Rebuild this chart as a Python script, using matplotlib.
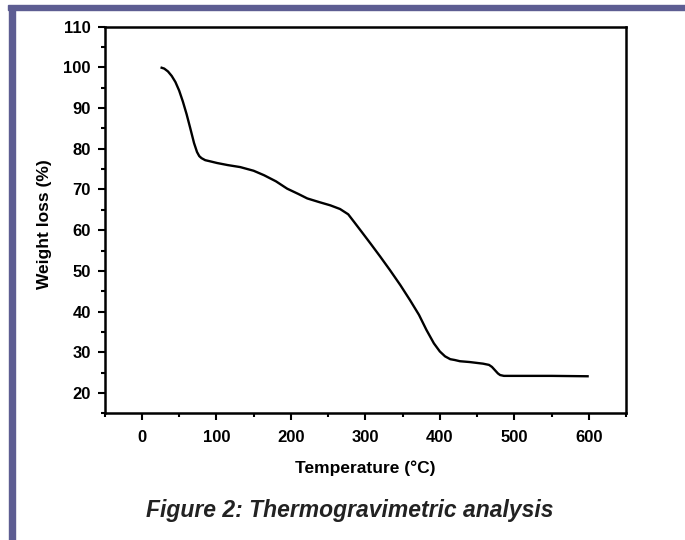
import matplotlib.pyplot as plt
from matplotlib.patches import Rectangle
from matplotlib.ticker import MultipleLocator

plt.rcParams['font.family'] = ['Liberation Sans', 'DejaVu Sans']

# TGA curve
temp = [25, 30, 35, 40, 45, 50, 55, 60, 65, 70, 74, 77, 80, 85, 92, 101, 115,
        132, 150, 164, 180, 195, 210, 222, 238, 253, 266, 277, 285, 295, 307,
        320, 333, 347, 360, 372, 382, 392, 400, 407, 414, 420, 427, 440, 458,
        466, 470, 474, 478, 481, 486, 500, 550, 600]
weight = [100, 99.7, 99.0, 97.9, 96.4, 94.3, 91.6, 88.5, 85.0, 81.4, 79.2,
          78.2, 77.7, 77.2, 76.9, 76.5, 76.0, 75.5, 74.6, 73.5, 72.0, 70.2,
          68.9, 67.8, 66.9, 66.1, 65.2, 63.9, 62.0, 59.6, 56.7, 53.5, 50.2,
          46.5, 42.8, 39.2, 35.5, 32.2, 30.2, 29.0, 28.3, 28.1, 27.8, 27.6,
          27.2, 26.9, 26.4, 25.6, 24.8, 24.4, 24.2, 24.2, 24.2, 24.1]

xticks = [0, 100, 200, 300, 400, 500, 600]
yticks = [20, 30, 40, 50, 60, 70, 80, 90, 100, 110]

fig = plt.figure(figsize=(6.85, 5.40), dpi=100)

# page frame: bar on top and on the left
frame = '#5d5d92'
fig.patches.append(Rectangle((8 / 685, 1 - 10 / 540), 1, 5 / 540,
                             transform=fig.transFigure, color=frame, zorder=0))
fig.patches.append(Rectangle((9 / 685, 0), 6 / 685, 1 - 8 / 540,
                             transform=fig.transFigure, color=frame, zorder=0))

ax = fig.add_axes([0.1528, 0.2346, 0.9139 - 0.1528, 0.9506 - 0.2346])
ax.plot(temp, weight, color='black', lw=1.7, solid_capstyle='butt')

ax.set_xlim(-50, 650)
ax.set_ylim(15, 110)
ax.set_xticks(xticks)
ax.set_yticks(yticks)
ax.xaxis.set_minor_locator(MultipleLocator(50))
ax.yaxis.set_minor_locator(MultipleLocator(5))
ax.tick_params(which='both', direction='out', width=1.5, labelsize=12,
               top=False, right=False)
ax.tick_params(which='major', length=5)
ax.tick_params(which='minor', length=3)
ax.tick_params(axis='x', which='major', pad=7)
ax.tick_params(axis='y', which='major', pad=5)
for lab in ax.get_xticklabels() + ax.get_yticklabels():
    lab.set_fontweight('bold')
for s in ax.spines.values():
    s.set_linewidth(1.8)

ax.set_xlabel('Temperature (°C)', fontsize=12.5, fontweight='bold')
ax.set_ylabel('Weight loss (%)', fontsize=12.5, fontweight='bold')
ax.xaxis.set_label_coords(0.5, (413.3 - 468) / 386.6)
ax.xaxis.label.set_va('center')
ax.yaxis.set_label_coords((45 - 104.7) / 521.3, 0.49)
ax.yaxis.label.set_va('center')

fig.text(350 / 685, 1 - 511 / 540, 'Figure 2: Thermogravimetric analysis',
         ha='center', va='center', fontsize=16.5, fontweight='bold',
         fontstyle='italic', color='#222222')

fig.savefig('out.png', dpi=100)
